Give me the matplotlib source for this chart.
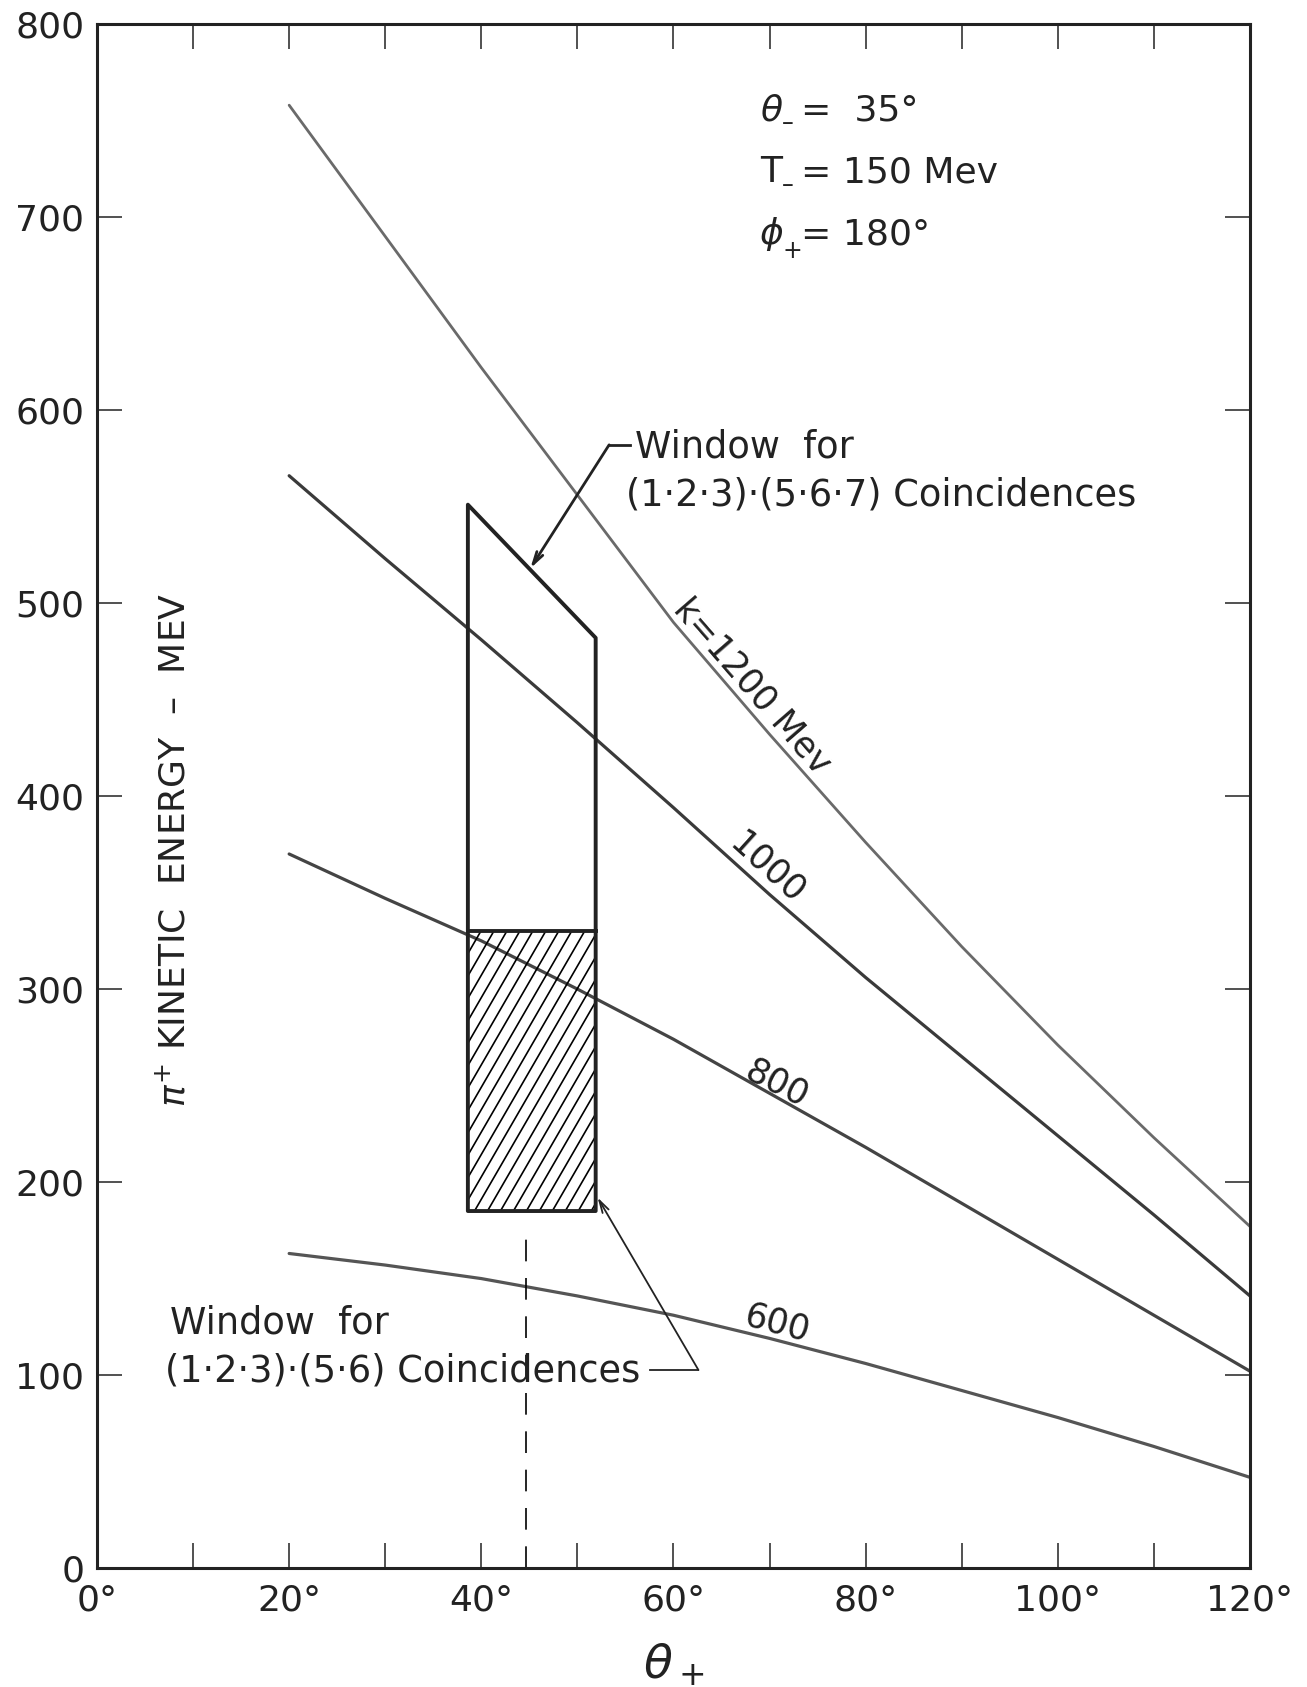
import numpy as np
import matplotlib.pyplot as plt
from matplotlib.patches import Polygon, Rectangle


# pi+ angle (deg) and kinetic energy (Mev) for each photon energy k
theta_plus = [20, 30, 40, 50, 60, 70, 80, 90, 100, 110, 120]
t_k1200 = [758, 690, 622, 556, 490, 432, 376, 322, 271, 223, 177]
t_k1000 = [566, 523, 481, 438, 394, 349, 306, 265, 224, 183, 141]
t_k800 = [370, 347, 325, 300, 274, 246, 218, 189, 160, 131, 102]
t_k600 = [163, 157, 150, 141, 131, 119, 106, 92, 78, 63, 47]

# counter window: angular edges and energy limits
win_edges = [38.6, 51.9]
win_top = [551, 482]
win_split = 330
win_bottom = 185
theta_cut = 44.6

x_ticks = list(range(0, 121, 10))
x_labels = [f"{t}°" if t % 20 == 0 else "" for t in x_ticks]
y_ticks = list(range(0, 801, 100))

ink = "#222222"


def main():
    fig = plt.figure(figsize=(13.07, 16.87), dpi=100)
    ax = fig.add_axes([0.0742, 0.0705, 0.8822, 0.9152])

    ax.set_xlim(0, 120)
    ax.set_ylim(0, 800)

    # curves
    ax.plot(theta_plus, t_k1200, color="#6a6a6a", lw=2.0, solid_capstyle="round")
    ax.plot(theta_plus, t_k1000, color="#3a3a3a", lw=2.3, solid_capstyle="round")
    ax.plot(theta_plus, t_k800, color="#444444", lw=2.3, solid_capstyle="round")
    ax.plot(theta_plus, t_k600, color="#555555", lw=2.3, solid_capstyle="round")

    # curve labels
    lab = dict(fontsize=25, color=ink, ha="center", va="center",
               rotation_mode="anchor")
    ax.text(68.2, 457, "k=1200 Mev", rotation=-49, **lab)
    ax.text(69.7, 363, "1000", rotation=-42, **lab)
    ax.text(70.8, 251, "800", rotation=-27, **lab)
    ax.text(70.8, 127, "600", rotation=-15, **lab)

    # window outline
    left, right = win_edges
    outline = Polygon([(left, win_bottom), (left, win_top[0]),
                       (right, win_top[1]), (right, win_bottom)],
                      closed=True, fill=False, ec=ink, lw=2.8,
                      joinstyle="round", zorder=4)
    ax.add_patch(outline)
    ax.plot([left, right], [win_split, win_split], color=ink, lw=2.8,
            zorder=4)

    # hatching of the lower part, steeper than the default hatch
    clip = Rectangle((left, win_bottom), right - left, win_split - win_bottom,
                     transform=ax.transData, fill=False, lw=0)
    slope = 8.6
    rise = (win_split - win_bottom) / slope
    for x0 in np.arange(left - rise, right + 1, 1.35):
        ln, = ax.plot([x0, x0 + rise], [win_bottom, win_split],
                      color="k", lw=1.2, zorder=3)
        ln.set_clip_path(clip)

    # dashed cut line under the window
    ax.plot([theta_cut, theta_cut], [0, 177], color="k", lw=1.2,
            ls=(0, (13, 10)))

    # annotations
    txt = dict(fontsize=26.5, color=ink, ha="left", va="center")
    ax.text(56.0, 581, "Window  for", **txt)
    ax.text(55.1, 556, "(1·2·3)·(5·6·7) Coincidences", **txt)
    ax.plot([53.3, 55.5], [582, 582], color=ink, lw=2.0)
    ax.annotate("", xy=(45.1, 518), xytext=(53.3, 582),
                arrowprops=dict(arrowstyle="->,head_length=0.9,head_width=0.25",
                                color=ink, lw=2.0, shrinkA=0, shrinkB=0))

    ax.text(7.6, 127, "Window  for", **txt)
    ax.text(7.1, 102, "(1·2·3)·(5·6) Coincidences", **txt)
    ax.plot([57.6, 62.6], [102.6, 102.6], color=ink, lw=1.3)
    ax.annotate("", xy=(52.1, 192), xytext=(62.6, 102.6),
                arrowprops=dict(arrowstyle="->,head_length=0.9,head_width=0.25",
                                color=ink, lw=1.3, shrinkA=0, shrinkB=0))

    # run parameters: symbol, subscript and value on a common baseline
    par = dict(fontsize=26, color=ink, va="baseline", ha="left")
    rows = [(750, "θ", "–", -5, "=  35°", "italic"),
            (718, "T", "–", -5, "= 150 Mev", "normal"),
            (686, "ϕ", "+", -7, "= 180°", "italic")]
    for y, sym, sub, drop, rest, style in rows:
        ax.text(69.0, y, sym, style=style, **par)
        ax.text(71.3, y + drop, sub, fontsize=17, color=ink,
                va="baseline", ha="left")
        ax.text(73.3, y, rest, **par)

    # axis title inside the frame
    ax.text(8.1, 372, r"$\pi^{+}$ KINETIC  ENERGY  –  MEV", rotation=90,
            fontsize=26, color=ink, ha="center", va="center")

    # frame and ticks
    for sp in ax.spines.values():
        sp.set_linewidth(2.2)
        sp.set_color(ink)
    ax.set_xticks(x_ticks)
    ax.set_xticklabels(x_labels)
    ax.set_yticks(y_ticks)
    ax.tick_params(direction="in", length=18, width=1.1, color=ink,
                   top=True, right=True, labelsize=26, labelcolor=ink)
    ax.tick_params(axis="y", pad=9)
    ax.tick_params(axis="x", pad=11)
    ax.set_xlabel(r"$\theta_+$", fontsize=34, color=ink, labelpad=18)

    fig.savefig("out.png", dpi=100, facecolor="white")


if __name__ == "__main__":
    main()
